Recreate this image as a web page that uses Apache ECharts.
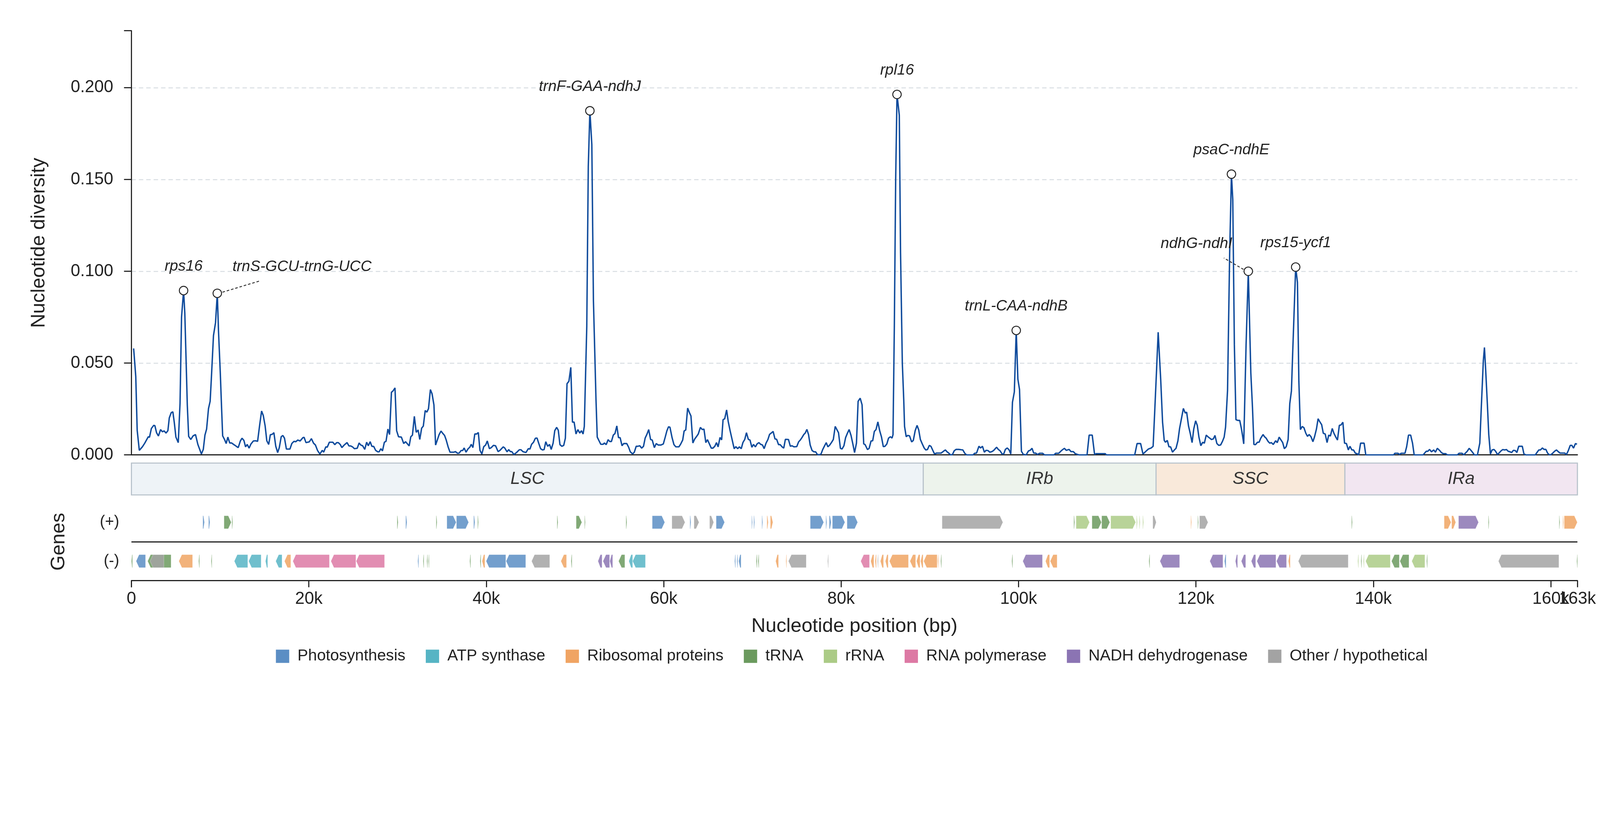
<!DOCTYPE html>
<html>
<head>
<meta charset="utf-8">
<title>Nucleotide diversity</title>
<script src="https://cdn.jsdelivr.net/npm/echarts@6.0.0/dist/echarts.min.js"></script>
<style>
  html, body { margin: 0; padding: 0; background: #ffffff; overflow: hidden; }
  #main { width: 100vw; height: 100vh; }
</style>
</head>
<body>
<div id="main"></div>
<script>
// sliding-window nucleotide diversity (window position in bp, Pi)
const divPos = [
  250, 490, 650, 890, 1237, 1503, 1902, 2035, 2248, 2514, 2647, 2833, 3046, 3286, 3498, 3685, 3898, 4111, 4270, 4483,
  4669, 4829, 5015, 5281, 5480, 5650, 5880, 6020, 6200, 6300, 6452, 6692, 6958, 7224, 7490, 7889, 8102, 8288, 8475, 8688,
  8874, 9007, 9250, 9480, 9680, 9820, 10018, 10151, 10284, 10497, 10683, 10870, 11082, 11295, 11561, 11827, 12040, 12280, 12466, 12679,
  12865, 13052, 13265, 13478, 13744, 14010, 14223, 14462, 14675, 14861, 15074, 15260, 15473, 15660, 15872, 16059, 16272, 16485, 16671, 16884,
  17070, 17257, 17469, 17869, 18081, 18321, 18534, 18747, 19014, 19333, 19466, 19677, 20050, 20290, 20530, 20742, 20982, 21248, 21514, 21674,
  21913, 22073, 22312, 22711, 22924, 23137, 23323, 23536, 23722, 23988, 24307, 24520, 24707, 24920, 25133, 25452, 25665, 25851, 26064, 26303,
  26516, 26703, 26915, 27102, 27315, 27528, 27767, 27927, 28113, 28300, 28513, 28699, 28912, 29098, 29311, 29498, 29711, 29897, 30110, 30430,
  30696, 30906, 31306, 31493, 31679, 31892, 32105, 32318, 32504, 32717, 32903, 33116, 33303, 33489, 33702, 33889, 34101, 34288, 34501, 34687,
  34900, 35087, 35300, 35486, 35699, 35912, 36361, 36521, 36761, 36947, 37160, 37347, 37507, 37720, 37960, 38146, 38306, 38492, 38705, 38918,
  39104, 39290, 39503, 39716, 39929, 40116, 40355, 40568, 40807, 41047, 41333, 41546, 41919, 42078, 42345, 42531, 42717, 42877, 43116, 43409,
  43728, 43915, 44127, 44473, 44740, 44926, 45112, 45325, 45538, 45724, 45910, 46123, 46336, 46522, 46709, 46922, 47134, 47321, 47534, 47720,
  47933, 48119, 48305, 48518, 48731, 48917, 49103, 49316, 49529, 49716, 49902, 50115, 50328, 50541, 50727, 50913, 51050, 51330, 51500, 51680,
  51900, 52080, 52370, 52509, 52722, 52908, 53175, 53308, 53521, 53734, 53920, 54107, 54319, 54506, 54718, 54905, 55091, 55304, 55490, 55836,
  56049, 56235, 56501, 56688, 56901, 57087, 57300, 57513, 57725, 57912, 58098, 58311, 58524, 58710, 58949, 59162, 59375, 59694, 59960, 60173,
  60359, 60546, 60705, 60945, 61158, 61371, 61716, 61903, 62142, 62302, 62488, 62701, 62888, 63074, 63287, 63500, 63686, 63899, 64138, 64351,
  64538, 64750, 64937, 65150, 65362, 65549, 65762, 65948, 66134, 66347, 66533, 66693, 66879, 67092, 67278, 67491, 67678, 67944, 68130, 68343,
  68529, 68742, 68929, 69141, 69328, 69541, 69727, 69940, 70126, 70339, 70525, 70738, 70924, 71137, 71323, 71536, 71749, 71935, 72122, 72334,
  72547, 72733, 72946, 73133, 73345, 73532, 73718, 74065, 74277, 74464, 74677, 74996, 75208, 75395, 75581, 75794, 75954, 76141, 76327, 76513,
  76726, 76939, 77125, 77311, 77524, 77737, 77923, 78110, 78322, 78509, 78722, 78935, 79121, 79334, 79521, 79707, 79920, 80106, 80319, 80505,
  80718, 80905, 81118, 81304, 81517, 81730, 81916, 82150, 82362, 82549, 82708, 82974, 83161, 83374, 83560, 83746, 83933, 84145, 84358, 84545,
  84757, 84944, 85157, 85343, 85556, 85742, 85850, 86000, 86150, 86300, 86560, 86700, 86900, 87060, 87152, 87338, 87498, 87711, 87951, 88137,
  88350, 88563, 88749, 88935, 89148, 89361, 89547, 89733, 89946, 90132, 90345, 90532, 90745, 91277, 91543, 91756, 91942, 92129, 92341, 92554,
  92740, 92953, 93273, 93539, 93725, 93938, 94151, 94869, 95055, 95268, 95534, 95721, 95934, 96147, 96333, 96546, 96759, 96998, 97185, 97530,
  97717, 97930, 98142, 98329, 98515, 98728, 98941, 99127, 99313, 99526, 99740, 99925, 100112, 100324, 100537, 100857, 101123, 101309, 101522, 101708,
  101921, 102134, 102374, 102719, 102932, 103996, 104183, 104528, 104848, 105167, 105380, 105700, 105912, 106178, 106391, 106657, 106844, 107722, 107961, 108307,
  108573, 108760, 109771, 109904, 113097, 113363, 113762, 114028, 114294, 114640, 114959, 115172, 115359, 115545, 115740, 116024, 116237, 116423, 116556, 116769,
  116956, 117142, 117355, 117568, 117754, 117967, 118153, 118366, 118579, 118792, 118951, 119164, 119351, 119563, 119750, 119963, 120149, 120335, 120548, 120761,
  120947, 121160, 121346, 121559, 121746, 121958, 122145, 122358, 122570, 122778, 122991, 123178, 123337, 123560, 123800, 124000, 124150, 124330, 124508, 124721,
  124934, 125120, 125253, 125386, 125650, 125900, 126185, 126371, 126531, 126717, 126930, 127116, 127302, 127568, 127728, 127914, 128127, 128313, 128500, 128713,
  128979, 129165, 129378, 129591, 129777, 129963, 130176, 130389, 130575, 130762, 130900, 131240, 131440, 131600, 131773, 131986, 132172, 132385, 132571, 132757,
  132970, 133183, 133369, 133582, 133768, 133955, 134168, 134354, 134567, 134780, 134966, 135152, 135365, 135551, 135764, 135951, 136163, 136350, 136563, 136749,
  136962, 137175, 137361, 137574, 137760, 137973, 138159, 138345, 138558, 138957, 139144, 142284, 142417, 142763, 142949, 143136, 143561, 143748, 143960, 144200,
  144413, 144599, 145610, 145797, 145956, 146143, 146329, 146542, 146808, 146995, 147207, 147473, 147660, 147873, 148138, 148351, 149468, 149655, 149995, 150186,
  150400, 150586, 150799, 151012, 151198, 151384, 151730, 151996, 152183, 152395, 152520, 152661, 152847, 153007, 153193, 153380, 153593, 153779, 153992, 154178,
  154391, 154577, 154790, 155003, 155189, 155402, 155589, 155775, 155988, 156174, 156387, 156786, 156973, 157185, 158250, 158436, 158649, 158835, 159048, 159235,
  159447, 159634, 159847, 160033, 160246, 160432, 160645, 160832, 161045, 161577, 161763, 161976, 162189, 162375, 162562, 162775, 162950
];
const divVal = [
  .0580, .0427, .0134, .0025, .0044, .0064, .0099, .0096, .0144, .0161, .0159, .0121, .0103, .0138, .0126, .0131, .0119, .0132, .0202, .0230,
  .0235, .0178, .0097, .0067, .0280, .0750, .0895, .0770, .0450, .0270, .0101, .0084, .0104, .0111, .0057, .0005, .0030, .0108, .0141, .0252,
  .0292, .0413, .0650, .0720, .0880, .0670, .0447, .0272, .0104, .0084, .0062, .0097, .0065, .0065, .0056, .0047, .0040, .0076, .0091, .0079,
  .0044, .0057, .0037, .0060, .0076, .0077, .0074, .0165, .0239, .0215, .0158, .0077, .0057, .0110, .0112, .0121, .0047, .0013, .0040, .0099,
  .0106, .0091, .0032, .0032, .0062, .0074, .0072, .0081, .0076, .0094, .0096, .0067, .0071, .0089, .0064, .0054, .0024, .0005, .0025, .0015,
  .0044, .0042, .0069, .0069, .0056, .0067, .0067, .0057, .0040, .0054, .0067, .0049, .0049, .0044, .0034, .0036, .0065, .0054, .0050, .0030,
  .0069, .0050, .0072, .0047, .0046, .0025, .0017, .0017, .0034, .0022, .0069, .0074, .0141, .0111, .0341, .0349, .0365, .0132, .0099, .0097,
  .0062, .0072, .0049, .0099, .0108, .0210, .0123, .0136, .0084, .0146, .0157, .0242, .0233, .0252, .0356, .0333, .0272, .0054, .0084, .0111,
  .0130, .0118, .0106, .0081, .0044, .0015, .0015, .0018, .0009, .0010, .0024, .0024, .0038, .0015, .0034, .0042, .0058, .0040, .0114, .0114,
  .0122, .0025, .0005, .0045, .0054, .0076, .0034, .0040, .0052, .0050, .0018, .0025, .0044, .0038, .0017, .0029, .0018, .0018, .0002, .0013,
  .0028, .0028, .0018, .0013, .0034, .0032, .0058, .0069, .0091, .0092, .0064, .0034, .0027, .0029, .0072, .0047, .0057, .0030, .0064, .0132,
  .0150, .0134, .0056, .0047, .0052, .0091, .0388, .0401, .0477, .0178, .0179, .0114, .0138, .0119, .0132, .0114, .0155, .0700, .1570, .1874,
  .1690, .0840, .0300, .0097, .0076, .0058, .0058, .0065, .0056, .0083, .0073, .0073, .0108, .0116, .0158, .0094, .0094, .0050, .0062, .0062,
  .0042, .0017, .0005, .0015, .0047, .0047, .0050, .0037, .0047, .0092, .0111, .0138, .0084, .0081, .0040, .0062, .0054, .0054, .0060, .0097,
  .0131, .0153, .0151, .0094, .0056, .0044, .0044, .0058, .0081, .0130, .0136, .0255, .0232, .0212, .0065, .0087, .0099, .0114, .0150, .0138,
  .0141, .0067, .0083, .0060, .0037, .0037, .0047, .0067, .0044, .0095, .0082, .0192, .0197, .0245, .0181, .0131, .0091, .0034, .0045, .0034,
  .0044, .0034, .0067, .0085, .0121, .0085, .0081, .0042, .0057, .0044, .0060, .0067, .0058, .0054, .0034, .0064, .0084, .0112, .0119, .0128,
  .0087, .0085, .0056, .0056, .0044, .0037, .0085, .0084, .0047, .0050, .0044, .0045, .0071, .0081, .0094, .0111, .0119, .0139, .0111, .0054,
  .0024, .0017, .0017, .0003, .0000, .0005, .0029, .0047, .0067, .0044, .0054, .0069, .0084, .0155, .0138, .0121, .0036, .0032, .0050, .0094,
  .0119, .0138, .0106, .0064, .0013, .0064, .0292, .0309, .0273, .0060, .0056, .0029, .0036, .0076, .0077, .0128, .0138, .0180, .0130, .0099,
  .0045, .0047, .0060, .0091, .0099, .0092, .0110, .0700, .1500, .1963, .1850, .1100, .0500, .0300, .0155, .0099, .0106, .0104, .0071, .0079,
  .0132, .0161, .0136, .0084, .0060, .0038, .0027, .0029, .0052, .0046, .0024, .0005, .0010, .0010, .0020, .0027, .0017, .0010, .0000, .0002,
  .0022, .0030, .0030, .0028, .0027, .0009, .0000, .0000, .0009, .0010, .0047, .0038, .0047, .0015, .0025, .0024, .0015, .0018, .0024, .0042,
  .0030, .0022, .0005, .0005, .0030, .0038, .0027, .0005, .0286, .0343, .0678, .0413, .0356, .0020, .0003, .0000, .0022, .0025, .0036, .0010,
  .0010, .0002, .0009, .0009, .0000, .0000, .0009, .0009, .0024, .0036, .0025, .0030, .0018, .0018, .0007, .0002, .0000, .0000, .0108, .0108,
  .0002, .0007, .0007, .0000, .0000, .0062, .0062, .0005, .0017, .0032, .0038, .0047, .0245, .0447, .0668, .0413, .0178, .0079, .0069, .0079,
  .0044, .0044, .0015, .0027, .0036, .0077, .0144, .0198, .0253, .0228, .0233, .0157, .0118, .0067, .0141, .0186, .0161, .0097, .0050, .0069,
  .0064, .0108, .0099, .0091, .0084, .0087, .0106, .0062, .0052, .0054, .0074, .0097, .0151, .0350, .1100, .1529, .1390, .0600, .0192, .0188,
  .0188, .0144, .0104, .0060, .0600, .1000, .0447, .0259, .0057, .0056, .0069, .0069, .0091, .0111, .0099, .0091, .0074, .0064, .0067, .0057,
  .0077, .0067, .0097, .0081, .0067, .0034, .0045, .0084, .0279, .0349, .0550, .1023, .0940, .0400, .0138, .0155, .0148, .0118, .0101, .0111,
  .0099, .0072, .0099, .0141, .0197, .0181, .0165, .0118, .0114, .0067, .0108, .0103, .0144, .0118, .0097, .0081, .0161, .0163, .0178, .0064,
  .0062, .0027, .0047, .0027, .0027, .0009, .0007, .0000, .0064, .0064, .0000, .0000, .0009, .0009, .0002, .0009, .0009, .0044, .0108, .0108,
  .0064, .0000, .0000, .0011, .0020, .0020, .0030, .0017, .0027, .0015, .0036, .0024, .0013, .0007, .0007, .0000, .0000, .0009, .0009, .0000,
  .0011, .0020, .0036, .0024, .0013, .0000, .0000, .0064, .0279, .0514, .0585, .0460, .0279, .0111, .0005, .0027, .0030, .0020, .0002, .0011,
  .0022, .0029, .0027, .0029, .0020, .0017, .0013, .0025, .0024, .0013, .0047, .0047, .0005, .0000, .0000, .0013, .0027, .0027, .0038, .0030,
  .0030, .0010, .0000, .0002, .0011, .0020, .0027, .0018, .0010, .0010, .0002, .0024, .0052, .0052, .0037, .0062, .0058
];

// labelled hotspots
const peakNames = ['rps16', 'trnS-GCU-trnG-UCC', 'trnF-GAA-ndhJ', 'rpl16', 'trnL-CAA-ndhB', 'psaC-ndhE', 'ndhG-ndhI', 'rps15-ycf1'];
const peakPos = [5880, 9680, 51680, 86300, 99740, 124000, 125900, 131240];
const peakVal = [.0895, .0880, .1874, .1963, .0678, .1529, .1000, .1023];

// quadripartite regions
const regionNames = ['LSC', 'IRb', 'SSC', 'IRa'];
const regionStart = [0, 89260, 115500, 136790];
const regionEnd = [89260, 115500, 136790, 163000];

// gene categories
const catNames = ['Photosynthesis', 'ATP synthase', 'Ribosomal proteins', 'tRNA', 'rRNA', 'RNA polymerase', 'NADH dehydrogenase', 'Other / hypothetical'];

// genes: start, end, strand (1 = +, -1 = -), category index
const geneStart = [
  8050, 8700, 10440, 11330, 29950, 30920, 34350, 35560, 36640, 38580, 39030, 47980, 50135, 51080,
  55750, 58712, 60925, 62960, 63420, 65176, 65914, 69920, 70160, 71070, 71640, 72027, 76523, 78280, 78666, 79017, 80668,
  91383, 106230, 106490, 108280, 109374, 110393, 113300, 113620, 114000, 115135, 119420, 120200, 120405, 137540,
  147980, 148825, 149600, 152960, 160940, 161360, 161510,
  0, 530, 1830, 2110, 5350, 7580, 8990, 11600, 13215, 15110, 16270, 17255, 18200, 22490, 25335, 32280, 32880, 33300, 33480,
  38140, 39300, 39527, 39985, 42235, 45110, 48415, 49560, 52595, 53160, 53930,
  54918, 56078, 56500, 68000, 68250, 68450, 70430, 70640, 72625, 73780, 74064, 78480, 82214, 83338, 83830, 84110, 84427, 84990,
  85445, 87765, 88500, 88960, 89310, 90880, 91230, 99240, 100482, 103045, 103570,
  114700, 115944, 121565, 123215, 124445, 125112, 126237, 126870, 129082, 130417, 131540, 138240, 138600, 138880, 139130,
  142045, 142990, 144330, 146000, 154095, 162940
];
const geneEnd = [
  8230, 8850, 11250, 11420, 30060, 31060, 34450, 36600, 38010, 38720, 39120, 48080, 50770, 51160,
  55850, 60117, 62400, 63070, 63980, 65633, 66862, 70000, 70250, 71160, 71780, 72308, 78034, 78385, 78876, 80422, 81862,
  98233, 106330, 108000, 109340, 110288, 113203, 113390, 113700, 114090, 115520, 119500, 120280, 121355, 137630,
  148755, 149280, 151850, 153040, 161020, 161440, 162985,
  120, 1590, 4470, 3660, 6890, 7680, 9080, 13110, 14620, 15360, 16975, 17960, 22315, 25300, 28530, 32380, 32970, 33390, 33560,
  38240, 39400, 39843, 42200, 44445, 47150, 49045, 49660, 53050, 53900, 54250,
  55620, 56500, 57940, 68100, 68350, 68720, 70530, 70740, 72940, 73860, 76066, 78570, 83198, 83690, 83970, 84180, 84780, 85305,
  87590, 88400, 88890, 89240, 90820, 90970, 91320, 99340, 102695, 103500, 104345,
  114800, 118157, 123040, 123390, 124690, 125605, 126729, 129012, 130206, 130627, 137160, 138330, 138680, 138960, 141905,
  142920, 144010, 145805, 146090, 160910, 163000
];
const geneStrand = [
  1, 1, 1, 1, 1, 1, 1, 1, 1, 1, 1, 1, 1, 1,
  1, 1, 1, 1, 1, 1, 1, 1, 1, 1, 1, 1, 1, 1, 1, 1, 1,
  1, 1, 1, 1, 1, 1, 1, 1, 1, 1, 1, 1, 1, 1,
  1, 1, 1, 1, 1, 1, 1,
  -1, -1, -1, -1, -1, -1, -1, -1, -1, -1, -1, -1, -1, -1, -1, -1, -1, -1, -1,
  -1, -1, -1, -1, -1, -1, -1, -1, -1, -1, -1,
  -1, -1, -1, -1, -1, -1, -1, -1, -1, -1, -1, -1, -1, -1, -1, -1, -1, -1,
  -1, -1, -1, -1, -1, -1, -1, -1, -1, -1, -1,
  -1, -1, -1, -1, -1, -1, -1, -1, -1, -1, -1, -1, -1, -1, -1,
  -1, -1, -1, -1, -1, -1
];
const geneCat = [
  0, 0, 3, 3, 3, 0, 3, 0, 0, 0, 3, 3, 3, 3,
  3, 0, 7, 0, 7, 7, 0, 0, 0, 0, 2, 2, 0, 0, 0, 0, 0,
  7, 3, 4, 3, 3, 4, 4, 4, 4, 7, 2, 3, 7, 3,
  2, 2, 6, 3, 3, 2, 2,
  3, 0, 3, 7, 2, 3, 3, 1, 1, 1, 1, 2, 5, 5, 5, 0, 3, 3, 3,
  3, 3, 2, 0, 0, 7, 2, 3, 6, 6, 6,
  3, 1, 1, 0, 0, 0, 3, 3, 2, 2, 7, 7, 5, 2, 2, 7, 2, 2,
  2, 2, 2, 2, 2, 2, 3, 3, 6, 2, 2,
  3, 6, 6, 0, 6, 6, 6, 6, 6, 2, 7, 4, 3, 4, 4,
  3, 3, 4, 3, 7, 3
];

const GENOME_LEN = 163000;
const catColors = ['#5b8ec4', '#56b4c4', '#f0a463', '#6b9a5e', '#abcb86', '#dd79a4', '#8b74b3', '#a3a3a3'];
const regionFill = ['#eef3f7', '#edf3ec', '#f9e9da', '#f2e6f1'];
const FONT = '"Liberation Sans", Arial, sans-serif';
const INK = '#222222';

// layout was measured on a 4322 x 2102 canvas; scale it to whatever the viewport is
const dom = document.getElementById('main');
const S = Math.min(dom.clientWidth / 4322, dom.clientHeight / 2102);
const px = v => v * S;

const chart = echarts.init(dom, null, { renderer: 'canvas' });

const lineData = divPos.map((p, i) => [p, divVal[i]]);

// label placement around each hotspot marker (pixel offsets)
function peakLabel(name) {
  if (name === 'trnS-GCU-trnG-UCC') return { dx: 41, dy: -72, align: 'left', lead: [14, -3, 113, -33] };
  if (name === 'ndhG-ndhI') return { dx: -43, dy: -74, align: 'right', lead: [-13, -5, -66, -36] };
  return { dx: 0, dy: -65, align: 'center', lead: null };
}

function renderPeak(params, api) {
  const i = api.value(2);
  const p = api.coord([api.value(0), api.value(1)]);
  const lab = peakLabel(peakNames[i]);
  const children = [];
  if (lab.lead) {
    children.push({
      type: 'line',
      shape: { x1: p[0] + px(lab.lead[0]), y1: p[1] + px(lab.lead[1]), x2: p[0] + px(lab.lead[2]), y2: p[1] + px(lab.lead[3]) },
      style: { stroke: '#333', lineWidth: px(2.5), lineDash: [px(7), px(5)] }
    });
  }
  children.push({
    type: 'circle',
    shape: { cx: p[0], cy: p[1], r: px(11.5) },
    style: { fill: '#ffffff', stroke: INK, lineWidth: px(2.5) }
  });
  children.push({
    type: 'text',
    style: {
      text: peakNames[i], x: p[0] + px(lab.dx), y: p[1] + px(lab.dy),
      align: lab.align, verticalAlign: 'middle',
      font: 'italic ' + px(41) + 'px ' + FONT, fill: INK
    }
  });
  return { type: 'group', children };
}

function renderRegion(params, api) {
  const i = api.value(2);
  const a = api.coord([api.value(0), 1]);
  const b = api.coord([api.value(1), 0]);
  return {
    type: 'group',
    children: [
      {
        type: 'rect',
        shape: { x: a[0], y: a[1], width: b[0] - a[0], height: b[1] - a[1] },
        style: { fill: regionFill[i], stroke: '#b9c3cc', lineWidth: px(3) }
      },
      {
        type: 'text',
        style: {
          text: regionNames[i], x: (a[0] + b[0]) / 2, y: (a[1] + b[1]) / 2,
          align: 'center', verticalAlign: 'middle',
          font: 'italic ' + px(47) + 'px ' + FONT, fill: '#333'
        }
      }
    ]
  };
}

function renderGene(params, api) {
  const strand = api.value(2);
  const yc = strand > 0 ? 1.5 : 0.5;
  const a = api.coord([api.value(0), yc]);
  const b = api.coord([api.value(1), yc]);
  const top = api.coord([0, yc + 0.167])[1];
  const bot = api.coord([0, yc - 0.167])[1];
  let x1 = a[0], x2 = b[0];
  const minW = px(2);
  if (x2 - x1 < minW) { const m = (x1 + x2) / 2; x1 = m - minW / 2; x2 = m + minW / 2; }
  const head = Math.min(px(8), (x2 - x1) * 0.6);
  const mid = a[1];
  const pts = strand > 0
    ? [[x1, top], [x2 - head, top], [x2, mid], [x2 - head, bot], [x1, bot]]
    : [[x1 + head, top], [x2, top], [x2, bot], [x1 + head, bot], [x1, mid]];
  return {
    type: 'polygon',
    shape: { points: pts },
    style: { fill: api.visual('color'), opacity: 0.85, stroke: 'rgba(255,255,255,0.5)', lineWidth: px(1) }
  };
}

const geneSeries = catNames.map((name, c) => {
  const data = [];
  geneStart.forEach((s, i) => { if (geneCat[i] === c) data.push([s, geneEnd[i], geneStrand[i]]); });
  return {
    name: name,
    type: 'custom',
    xAxisIndex: 2,
    yAxisIndex: 2,
    itemStyle: { color: catColors[c] },
    renderItem: renderGene,
    encode: { x: [0, 1], y: 2 },
    data: data,
    z: 4
  };
});

const axisLineStyle = { color: INK, width: px(3) };
const kLabel = v => (v === 0 ? '0' : Math.round(v / 1000) + 'k');

const option = {
  backgroundColor: '#ffffff',
  animation: false,
  textStyle: { fontFamily: FONT },
  grid: [
    { left: px(355), right: px(61), top: px(83), height: px(1146) },
    { left: px(355), right: px(61), top: px(1251), height: px(86) },
    { left: px(355), right: px(61), top: px(1358.5), height: px(210) }
  ],
  legend: {
    data: catNames,
    top: px(1746),
    left: px(740),
    icon: 'rect',
    itemWidth: px(36),
    itemHeight: px(36),
    itemGap: px(55),
    selectedMode: false,
    textStyle: { fontSize: px(43), color: INK, fontFamily: FONT, padding: [0, 0, 0, px(17)] }
  },
  xAxis: [
    {
      gridIndex: 0, type: 'value', min: 0, max: GENOME_LEN,
      axisLine: { show: true, lineStyle: axisLineStyle },
      axisTick: { show: false }, axisLabel: { show: false }, splitLine: { show: false }
    },
    {
      gridIndex: 1, type: 'value', min: 0, max: GENOME_LEN, show: false
    },
    {
      // regular 20k ticks (the genome-end label is drawn by the next axis)
      gridIndex: 2, type: 'value', position: 'bottom', min: 0, max: GENOME_LEN, interval: 20000,
      axisLine: { show: true, lineStyle: axisLineStyle },
      axisTick: { show: true, length: px(18), lineStyle: axisLineStyle },
      axisLabel: {
        fontSize: px(46), color: INK, margin: px(27), fontFamily: FONT,
        showMaxLabel: false, showMinLabel: true,
        formatter: kLabel
      },
      splitLine: { show: false },
      name: 'Nucleotide position (bp)',
      nameLocation: 'middle',
      nameGap: px(98),
      nameTextStyle: { fontSize: px(53), color: INK, fontFamily: FONT }
    },
    {
      // genome end tick + label
      gridIndex: 2, type: 'value', position: 'bottom', offset: 0, min: 0, max: GENOME_LEN, interval: GENOME_LEN,
      axisLine: { show: false, onZero: false },
      axisTick: { show: true, length: px(18), lineStyle: axisLineStyle },
      axisLabel: {
        fontSize: px(46), color: INK, margin: px(27), fontFamily: FONT,
        formatter: v => (v === GENOME_LEN ? kLabel(v) : '')
      },
      splitLine: { show: false }
    }
  ],
  yAxis: [
    {
      gridIndex: 0, type: 'value', min: 0, max: 0.231, interval: 0.05,
      axisLine: { show: true, lineStyle: axisLineStyle },
      axisTick: { show: true, length: px(20), lineStyle: axisLineStyle },
      axisLabel: {
        fontSize: px(46), color: INK, margin: px(49), fontFamily: FONT,
        formatter: v => (v > 0.2001 ? '' : v.toFixed(3))
      },
      splitLine: {
        show: true, showMinLine: false, showMaxLine: false,
        lineStyle: { color: '#d8dde2', width: px(2.5), type: [px(12), px(8)] }
      },
      name: 'Nucleotide diversity',
      nameLocation: 'middle',
      nameGap: px(223),
      nameTextStyle: { fontSize: px(53), color: INK, fontFamily: FONT }
    },
    {
      gridIndex: 1, type: 'value', min: 0, max: 1, show: false
    },
    {
      gridIndex: 2, type: 'value', min: 0, max: 2, interval: 0.5,
      axisLine: { show: false }, axisTick: { show: false }, splitLine: { show: false },
      axisLabel: {
        fontSize: px(42), color: INK, margin: px(33), fontFamily: FONT,
        formatter: v => (v === 1.5 ? '(+)' : v === 0.5 ? '(-)' : '')
      },
      name: 'Genes',
      nameLocation: 'middle',
      nameGap: px(169),
      nameTextStyle: { fontSize: px(53), color: INK, fontFamily: FONT }
    }
  ],
  series: [
    {
      name: 'Pi',
      type: 'line',
      xAxisIndex: 0,
      yAxisIndex: 0,
      data: lineData,
      showSymbol: false,
      symbol: 'none',
      sampling: null,
      lineStyle: { color: '#0f4b9c', width: px(3.8) },
      z: 3
    },
    {
      name: 'hotspots',
      type: 'custom',
      xAxisIndex: 0,
      yAxisIndex: 0,
      renderItem: renderPeak,
      encode: { x: 0, y: 1 },
      data: peakPos.map((p, i) => [p, peakVal[i], i]),
      clip: false,
      z: 6
    },
    {
      name: 'regions',
      type: 'custom',
      xAxisIndex: 1,
      yAxisIndex: 1,
      renderItem: renderRegion,
      encode: { x: [0, 1] },
      data: regionNames.map((n, i) => [regionStart[i], regionEnd[i], i]),
      z: 2
    },
    {
      name: 'strand divider',
      type: 'line',
      xAxisIndex: 2,
      yAxisIndex: 2,
      data: [],
      markLine: {
        silent: true,
        symbol: 'none',
        label: { show: false },
        lineStyle: { color: INK, width: px(3), type: 'solid' },
        data: [{ yAxis: 1 }]
      }
    }
  ].concat(geneSeries)
};

chart.setOption(option);
window.addEventListener('resize', () => chart.resize());
</script>
</body>
</html>
